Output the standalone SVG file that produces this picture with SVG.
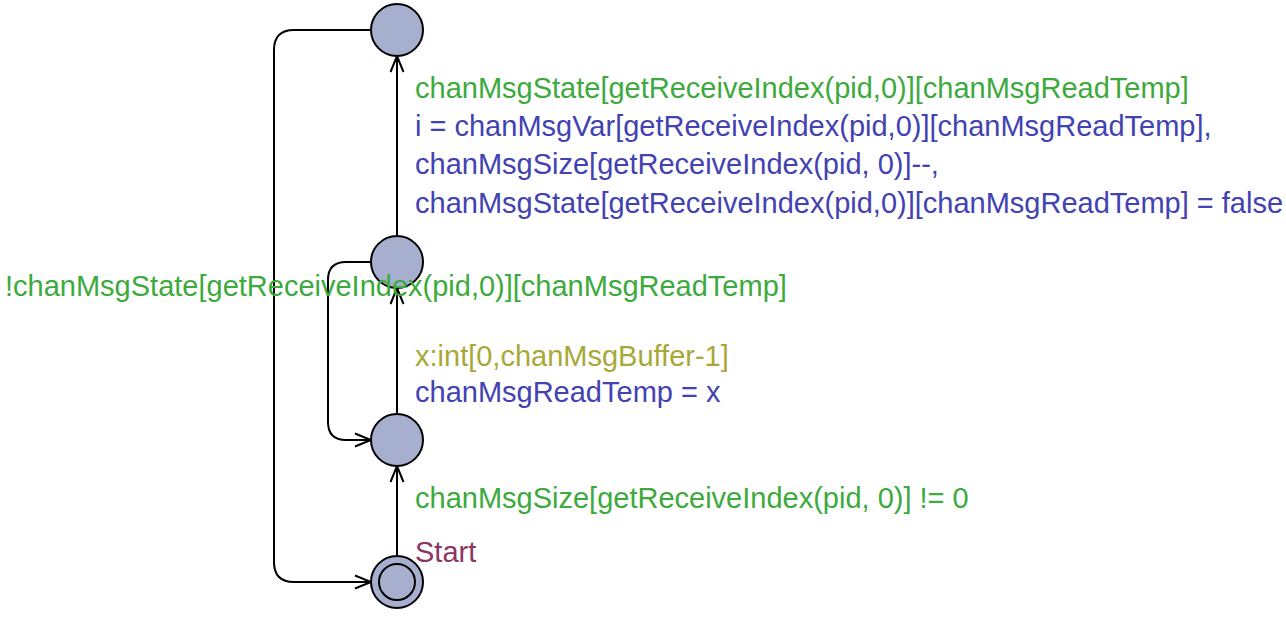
<svg xmlns="http://www.w3.org/2000/svg" width="1286" height="617" viewBox="0 0 1286 617">
<defs>
<style>
.node{fill:#a7afcf;stroke:#000;stroke-width:2}
.edge{fill:none;stroke:#000;stroke-width:2}
text{font-family:"Liberation Sans",Arial,sans-serif;font-size:29px}
.guard{fill:#3caa3c}
.assign{fill:#4242b2}
.select{fill:#a8a838}
.name{fill:#8c3462}
</style>
<marker id="arr" viewBox="-17 -8 19 16" markerWidth="19" markerHeight="16" refX="0" refY="0" orient="auto" markerUnits="userSpaceOnUse">
<path d="M-16,-6.5 L0,0 L-16,6.5" fill="none" stroke="#000" stroke-width="2"/>
</marker>
</defs>
<rect width="1286" height="617" fill="#fff"/>
<g id="connectors">
<path class="edge" d="M397,558 L397,466" marker-end="url(#arr)"/>
<path class="edge" d="M397,414 L397,288" marker-end="url(#arr)"/>
<path class="edge" d="M397,236 L397,56" marker-end="url(#arr)"/>
<path class="edge" d="M371,30 L294,30 Q274,30 274,50 L274,562 Q274,582 294,582 L371,582" marker-end="url(#arr)"/>
<path class="edge" d="M371,262 L346,262 Q328,262 328,280 L328,422 Q328,440 346,440 L371,440" marker-end="url(#arr)"/>
</g>
<g id="n_top"><circle class="node" cx="397" cy="30" r="26"/></g>
<g id="n_mid"><circle class="node" cx="397" cy="262" r="26"/></g>
<g id="n_low"><circle class="node" cx="397" cy="440" r="26"/></g>
<g id="n_start"><circle class="node" cx="397" cy="582" r="26"/><circle class="node" cx="397" cy="582" r="18"/></g>
<g id="labels">
<text class="name" x="415" y="562">Start</text>
<text class="guard" x="415" y="508">chanMsgSize[getReceiveIndex(pid, 0)] != 0</text>
<text class="select" x="415" y="366">x:int[0,chanMsgBuffer-1]</text>
<text class="assign" x="415" y="402">chanMsgReadTemp = x</text>
<text class="guard" x="5" y="296">!chanMsgState[getReceiveIndex(pid,0)][chanMsgReadTemp]</text>
<text class="guard" x="415" y="98">chanMsgState[getReceiveIndex(pid,0)][chanMsgReadTemp]</text>
<text class="assign" x="415" y="136">i = chanMsgVar[getReceiveIndex(pid,0)][chanMsgReadTemp],</text>
<text class="assign" x="415" y="174">chanMsgSize[getReceiveIndex(pid, 0)]--,</text>
<text class="assign" x="415" y="213">chanMsgState[getReceiveIndex(pid,0)][chanMsgReadTemp] = false</text>
</g>
</svg>
